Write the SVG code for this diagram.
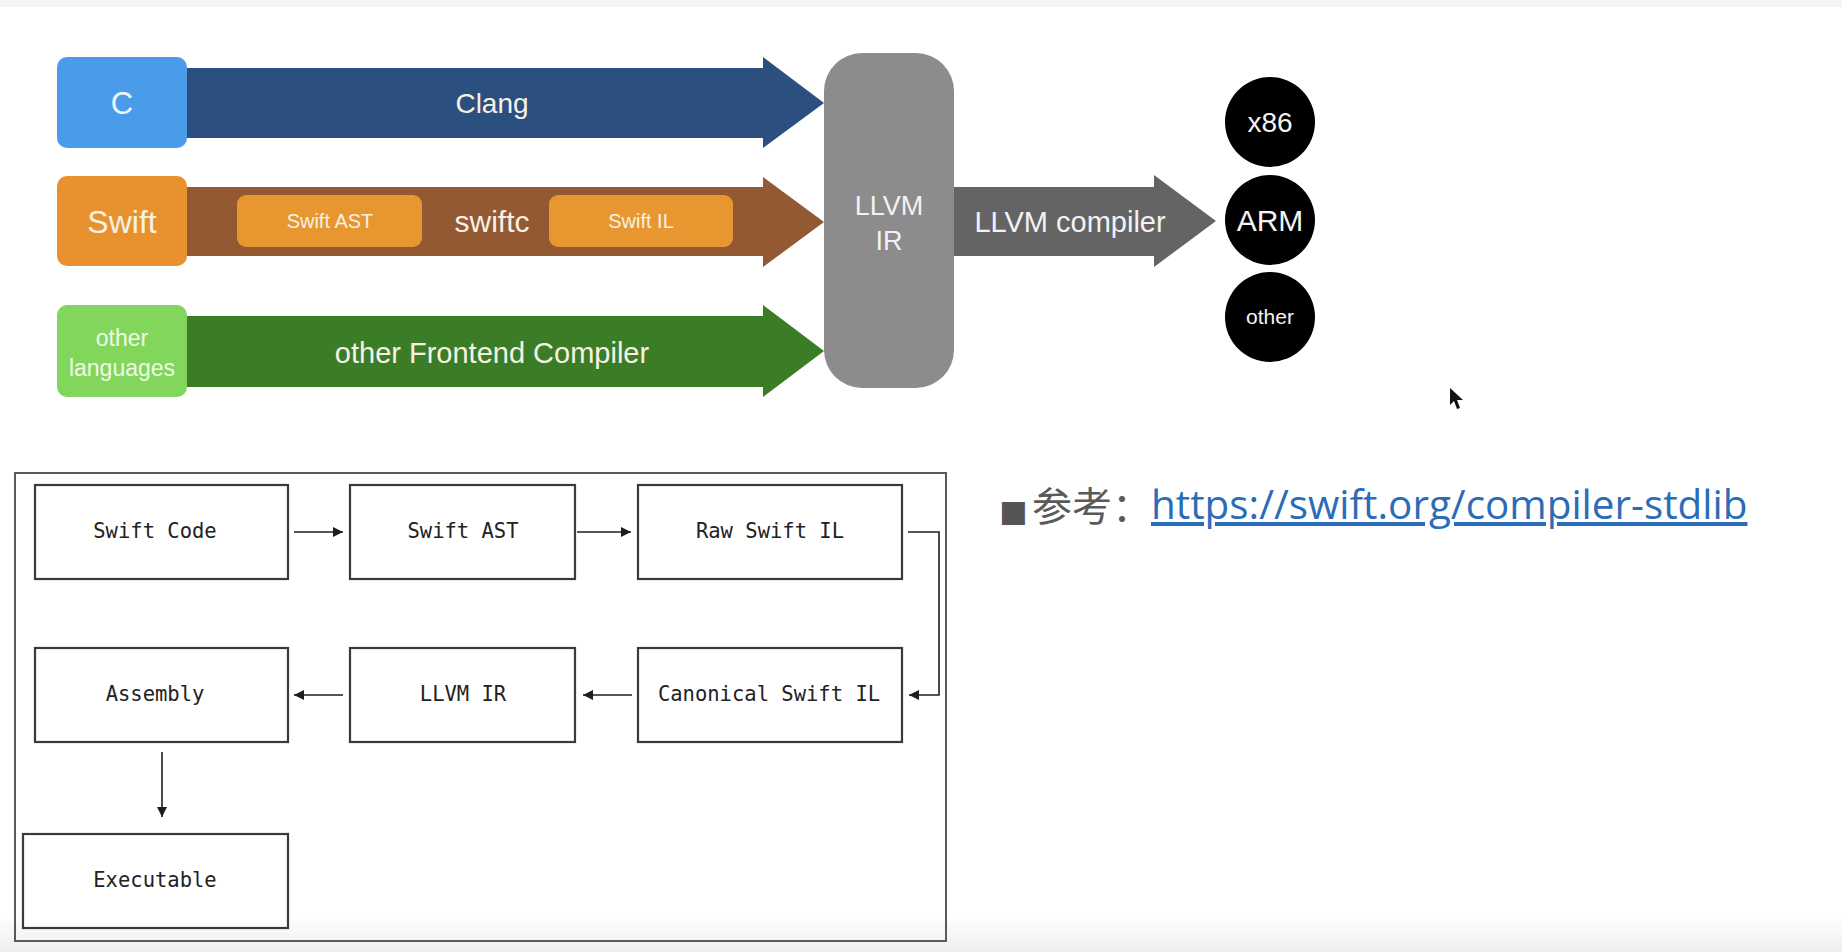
<svg xmlns="http://www.w3.org/2000/svg" width="1842" height="952" viewBox="0 0 1842 952">
<defs>
  <marker id="ah" markerUnits="userSpaceOnUse" markerWidth="11" markerHeight="11" refX="10" refY="5" orient="auto">
    <path d="M0,0 L10,5 L0,10 z" fill="#1e1e1e"/>
  </marker>
  <linearGradient id="bot" x1="0" y1="0" x2="0" y2="1">
    <stop offset="0" stop-color="#ffffff"/>
    <stop offset="1" stop-color="#eeeeee"/>
  </linearGradient>
  <style>
    .sans { font-family: "Liberation Sans", Arial, sans-serif; text-anchor: middle; }
    .lt { fill: #f7f1e4; }
    .mono { font-family: "DejaVu Sans Mono", "Liberation Mono", monospace; font-size: 20.5px; fill: #222; text-anchor: middle; }
    .box { fill: #ffffff; stroke: #3a3a3a; stroke-width: 2.2; }
    .conn { fill: none; stroke: #1e1e1e; stroke-width: 1.6; marker-end: url(#ah); }
    .circ { fill: #000000; }
    .ct { font-family: "Liberation Sans", Arial, sans-serif; text-anchor: middle; fill: #f4f4f4; }
  </style>
</defs>

<rect x="0" y="0" width="1842" height="952" fill="#ffffff"/>
<rect x="0" y="0" width="1842" height="7" fill="#f4f4f4"/>
<rect x="0" y="915" width="1842" height="37" fill="url(#bot)"/>

<!-- top compiler overview -->
<g id="arrow-clang">
  <polygon points="187,68 763,68 763,57 824,103 763,148 763,138 187,138" fill="#2b5080"/>
  <text class="sans lt" x="492" y="113" font-size="28">Clang</text>
</g>
<g id="arrow-swiftc">
  <polygon points="187,187 763,187 763,177 824,222 763,267 763,256 187,256" fill="#935933"/>
  <text class="sans lt" x="492" y="232" font-size="30">swiftc</text>
</g>
<g id="swift-ast-inner">
  <rect x="237" y="195" width="185" height="52" rx="9" fill="#e8962f"/>
  <text class="sans lt" x="330" y="228" font-size="20">Swift AST</text>
</g>
<g id="swift-il-inner">
  <rect x="549" y="195" width="184" height="52" rx="9" fill="#e8962f"/>
  <text class="sans lt" x="641" y="228" font-size="20">Swift IL</text>
</g>
<g id="arrow-other">
  <polygon points="187,316 763,316 763,305 824,351 763,397 763,387 187,387" fill="#3b7d27"/>
  <text class="sans lt" x="492" y="363" font-size="29">other Frontend Compiler</text>
</g>
<g id="lang-c">
  <rect x="57" y="57" width="130" height="91" rx="10" fill="#4a9bea"/>
  <text class="sans" x="122" y="114" font-size="31" fill="#eef7ff">C</text>
</g>
<g id="lang-swift">
  <rect x="57" y="176" width="130" height="90" rx="10" fill="#e8922f"/>
  <text class="sans lt" x="122" y="233" font-size="32">Swift</text>
</g>
<g id="lang-other">
  <rect x="57" y="305" width="130" height="92" rx="10" fill="#82d65c"/>
  <text class="sans" x="122" y="346" font-size="23" fill="#eefbe4">other</text>
  <text class="sans" x="122" y="376" font-size="23" fill="#eefbe4">languages</text>
</g>
<g id="llvm-ir">
  <rect x="824" y="53" width="130" height="335" rx="38" fill="#8c8c8c"/>
  <text class="sans" x="889" y="215" font-size="27" fill="#f2f2f2">LLVM</text>
  <text class="sans" x="889" y="250" font-size="27" fill="#f2f2f2">IR</text>
</g>
<g id="arrow-llvm-compiler">
  <polygon points="954,187 1154,187 1154,175 1216,221 1154,267 1154,256 954,256" fill="#646464"/>
  <text class="sans" x="1070" y="232" font-size="29" fill="#f2f2f2">LLVM compiler</text>
</g>
<g id="target-x86">
  <circle class="circ" cx="1270" cy="122" r="45"/>
  <text class="ct" x="1270" y="132" font-size="28">x86</text>
</g>
<g id="target-arm">
  <circle class="circ" cx="1270" cy="220" r="45"/>
  <text class="ct" x="1270" y="231" font-size="30">ARM</text>
</g>
<g id="target-other">
  <circle class="circ" cx="1270" cy="317" r="45"/>
  <text class="ct" x="1270" y="324" font-size="21">other</text>
</g>

<!-- cursor -->
<polygon points="1450,388 1450,405 1454,401 1457,409 1460,408 1457,400 1463,400" fill="#111"/>

<!-- pipeline diagram -->
<rect id="frame" x="15" y="473" width="931" height="468" fill="none" stroke="#5a5a5a" stroke-width="2"/>

<g id="n-swift-code">
  <rect class="box" x="35" y="485" width="253" height="94"/>
  <text class="mono" x="155" y="538">Swift Code</text>
</g>
<g id="n-swift-ast">
  <rect class="box" x="350" y="485" width="225" height="94"/>
  <text class="mono" x="463" y="538">Swift AST</text>
</g>
<g id="n-raw-sil">
  <rect class="box" x="638" y="485" width="264" height="94"/>
  <text class="mono" x="770" y="538">Raw Swift IL</text>
</g>
<g id="n-assembly">
  <rect class="box" x="35" y="648" width="253" height="94"/>
  <text class="mono" x="155" y="701">Assembly</text>
</g>
<g id="n-llvm-ir">
  <rect class="box" x="350" y="648" width="225" height="94"/>
  <text class="mono" x="463" y="701">LLVM IR</text>
</g>
<g id="n-canonical-sil">
  <rect class="box" x="638" y="648" width="264" height="94"/>
  <text class="mono" x="769" y="701">Canonical Swift IL</text>
</g>
<g id="n-executable">
  <rect class="box" x="23" y="834" width="265" height="94"/>
  <text class="mono" x="155" y="887">Executable</text>
</g>

<g id="connectors">
  <path class="conn" d="M294,532 H343"/>
  <path class="conn" d="M577,532 H631"/>
  <path class="conn" d="M908,532 H939 V695 H909"/>
  <path class="conn" d="M632,695 H583"/>
  <path class="conn" d="M343,695 H294"/>
  <path class="conn" d="M162,752 V817"/>
</g>

<!-- reference -->
<g id="reference">
  <text x="999" y="521" font-family="'DejaVu Sans', sans-serif" font-size="30" fill="#555555">■</text>
  <text x="1032" y="521" font-family="'Noto Sans CJK SC', sans-serif" font-size="40" fill="#5a5a5a">参考：</text>
  <text x="1151" y="519" font-family="'Open Sans', 'Noto Sans', sans-serif" font-size="40.4" fill="#2b6cb8" text-decoration="underline">https://swift.org/compiler-stdlib</text>
</g>
</svg>
